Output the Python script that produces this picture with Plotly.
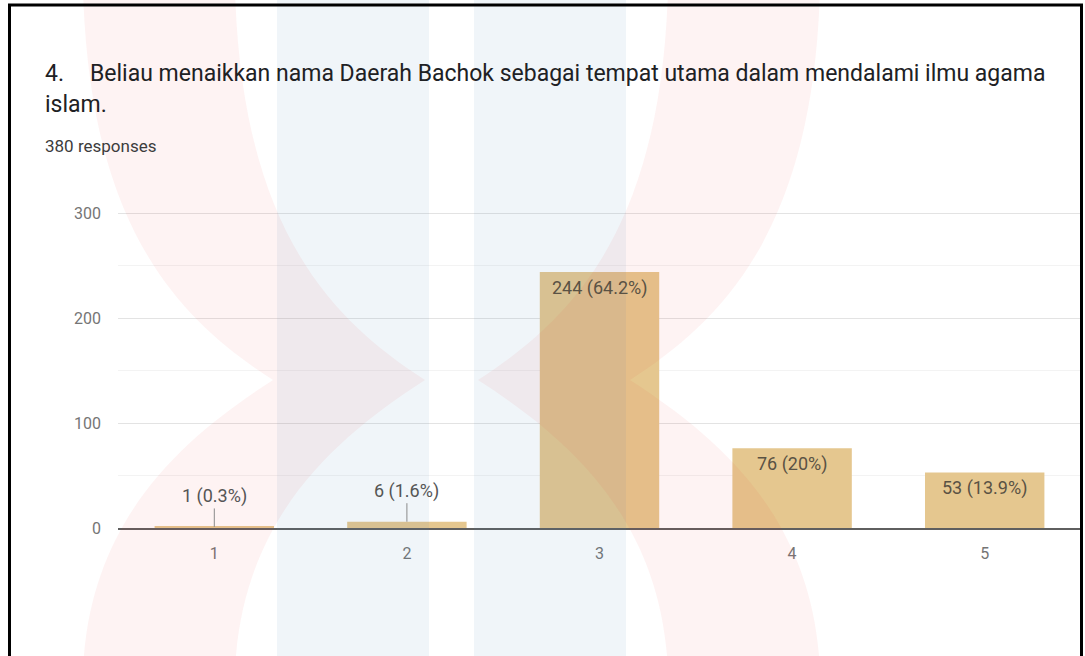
import plotly.graph_objects as go

# ---- data ----
categories = ["1", "2", "3", "4", "5"]
counts = [1, 6, 244, 76, 53]
bar_labels = ["1 (0.3%)", "6 (1.6%)", "244 (64.2%)", "76 (20%)", "53 (13.9%)"]
y_ticks = [0, 100, 200, 300]
y_tick_text = ["0", "100", "200", "300"]
title_number = "4."
title_line1 = "Beliau menaikkan nama Daerah Bachok sebagai tempat utama dalam mendalami ilmu agama"
title_line2 = "islam."
subtitle = "380 responses"

# ---- geometry ----
W, H = 1085, 656
L, R, T, B = 118, 4, 210, 128
PW = W - L - R
PH = H - T - B
FONT = "Roboto, Arial, sans-serif"
BAR_COLOR = "#E5C78F"


def px(x, y):
    """pixel position -> paper coordinates"""
    return (x - L) / PW, (H - B - y) / PH


def path_from(points):
    parts = []
    for cmd, pts in points:
        coords = " ".join("%.5f,%.5f" % px(x, y) for x, y in pts)
        parts.append(cmd + " " + coords)
    return " ".join(parts) + " Z"


fig = go.Figure()
fig.add_trace(go.Bar(
    x=categories, y=counts, marker=dict(color=BAR_COLOR, line=dict(width=0)),
    hoverinfo="skip", showlegend=False,
))

annotations = []
for i, (v, lab) in enumerate(zip(counts, bar_labels)):
    if v >= 20:
        annotations.append(dict(
            x=i, y=v, xref="x", yref="y", text=lab, showarrow=False,
            yanchor="top", yshift=-3,
            font=dict(family=FONT, size=18, color="#5a5244"),
        ))
    else:
        annotations.append(dict(
            x=i, y=v, xref="x", yref="y", text=lab, showarrow=True,
            arrowhead=0, arrowwidth=1, arrowcolor="#8a8a8a", ax=0, ay=-31,
            standoff=0, font=dict(family=FONT, size=18, color="#555555"),
        ))

# title texts
for text, x, y, size, color in [
    (title_number, 43, 73, 23, "#202124"),
    (title_line1, 88, 73, 23, "#202124"),
    (title_line2, 43, 104, 23, "#202124"),
    (subtitle, 43, 146, 17, "#3c3c3c"),
]:
    tx, ty = px(x, y)
    annotations.append(dict(x=tx, y=ty, xref="paper", yref="paper", text=text,
                            showarrow=False, xanchor="left", yanchor="middle",
                            font=dict(family=FONT, size=size, color=color)))

# ---- faint watermark (decorative) ----
shapes = []
blue = "rgba(85,135,185,0.085)"
pink = "rgba(235,45,55,0.06)"
for x0, x1 in [(277, 429), (474, 626)]:
    a = px(x0, -10)
    b = px(x1, 670)
    shapes.append(dict(type="rect", xref="paper", yref="paper", x0=a[0], x1=b[0],
                       y0=b[1], y1=a[1], fillcolor=blue, line=dict(width=0),
                       layer="above"))


def chevron(mirror=False):
    left = [(83, -10), (90, 230), (180, 320), (273, 380), (180, 440), (90, 520), (83, 670)]
    right = [(x + 152, y) for x, y in left]
    if mirror:
        left = [(903 - x, y) for x, y in left]
        right = [(903 - x, y) for x, y in right]
    rr = right[::-1]
    return path_from([
        ("M", [left[0]]), ("C", left[1:4]), ("C", left[4:7]),
        ("L", [rr[0]]), ("C", rr[1:4]), ("C", rr[4:7]),
    ])


for m in (False, True):
    shapes.append(dict(type="path", xref="paper", yref="paper", path=chevron(m),
                       fillcolor=pink, line=dict(width=0), layer="above"))

# outer frame
a = px(9.5, 5)
b = px(1081.5, 700)
shapes.append(dict(type="path", xref="paper", yref="paper",
                   path="M %.5f,%.5f L %.5f,%.5f L %.5f,%.5f L %.5f,%.5f" % (
                       a[0], b[1], a[0], a[1], b[0], a[1], b[0], b[1]),
                   line=dict(color="#000000", width=3), layer="above"))

fig.update_layout(
    width=W, height=H,
    margin=dict(l=L, r=R, t=T, b=B, autoexpand=False),
    paper_bgcolor="#ffffff", plot_bgcolor="rgba(0,0,0,0)",
    bargap=0.38,
    font=dict(family=FONT, color="#757575"),
    annotations=annotations,
    shapes=shapes,
    showlegend=False,
)
fig.update_xaxes(
    type="category", showgrid=False, showline=True, linecolor="#5f5f5f",
    linewidth=2, ticks="", tickfont=dict(family=FONT, size=16, color="#757575"),
    ticklabelstandoff=10, zeroline=False, fixedrange=True,
)
fig.update_yaxes(
    range=[0, 303], tickvals=y_ticks, ticktext=y_tick_text,
    showgrid=True, gridcolor="#e3e3e3", gridwidth=1,
    minor=dict(dtick=50, showgrid=True, gridcolor="#f3f3f3", gridwidth=1),
    zeroline=False, showline=False, ticks="",
    tickfont=dict(family=FONT, size=16, color="#757575"),
    ticklabelstandoff=16, fixedrange=True,
)

fig.write_html(
    "out.html",
    config={"displayModeBar": False},
    post_script="document.body.style.margin='0px';document.body.style.overflow='hidden';",
)
